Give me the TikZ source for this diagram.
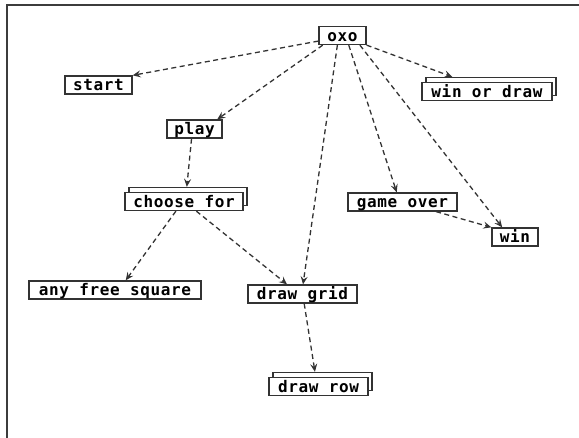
\documentclass[tikz,border=0pt]{standalone}
\usepackage{fontspec}
\newfontfamily\boxfont[LetterSpace=4]{DejaVu Sans Mono}
\usetikzlibrary{arrows.meta}
\definecolor{ink}{HTML}{333333}
\definecolor{framec}{HTML}{3C3C3C}
\begin{document}
\begin{tikzpicture}[x=1pt,y=-1pt,
  box/.style={draw=ink, line width=1.3pt, fill=white, inner xsep=0pt, inner ysep=0pt,
    minimum height=18pt, text height=15pt, text depth=3pt,
    font=\boxfont\bfseries\fontsize{16pt}{16pt}\selectfont},
  link/.style={draw=ink, line width=1.3pt, dash pattern=on 5pt off 3.5pt,
    -{Stealth[length=8pt,width=7pt,inset=3pt]}},
  frameline/.style={draw=framec, line width=2pt}]
\useasboundingbox (0,0) rectangle (579,438);
\draw[frameline] (579,5) -- (7,5) -- (7,438);

\node[box, minimum width=47pt] (oxo) at (342.5,35.5) {oxo};
\node[box, minimum width=67pt] (start) at (98.5,85) {start};
\node[box, minimum width=130pt] (wodb) at (491,86.5) {};
\node[box, minimum width=130pt] (wod) at (487,91.5) {win or draw};
\node[box, minimum width=55pt] (play) at (194.5,129) {play};
\node[box, minimum width=118pt] (chooseb) at (188,196.5) {};
\node[box, minimum width=118pt] (choose) at (184,201.5) {choose for};
\node[box, minimum width=109pt] (over) at (402.5,202) {game over};
\node[box, minimum width=46pt] (win) at (515,237) {win};
\node[box, minimum width=172pt] (any) at (115,290) {any free square};
\node[box, minimum width=109pt] (grid) at (302.5,294) {draw grid};
\node[box, minimum width=99pt] (rowb) at (322.5,381.5) {};
\node[box, minimum width=99pt] (row) at (318.5,386.5) {draw row};

\draw[link] (oxo.193) -- (start.north east);
\draw[link] (oxo.206) -- (play.23);
\draw[link] (oxo.south east) -- (wodb.166);
\draw[link] (oxo.303) -- (over.121);
\draw[link] (oxo.331) -- (win.143);
\draw[link] (oxo.242) -- (grid.87);
\draw[link] (over.344) -- (win.north west);
\draw[link] (play.253) -- (chooseb.97);
\draw[link] (choose.230) -- (any.42);
\draw[link] (choose.322) -- (grid.148);
\draw[link] (grid.280) -- (rowb.128);
\end{tikzpicture}
\end{document}
